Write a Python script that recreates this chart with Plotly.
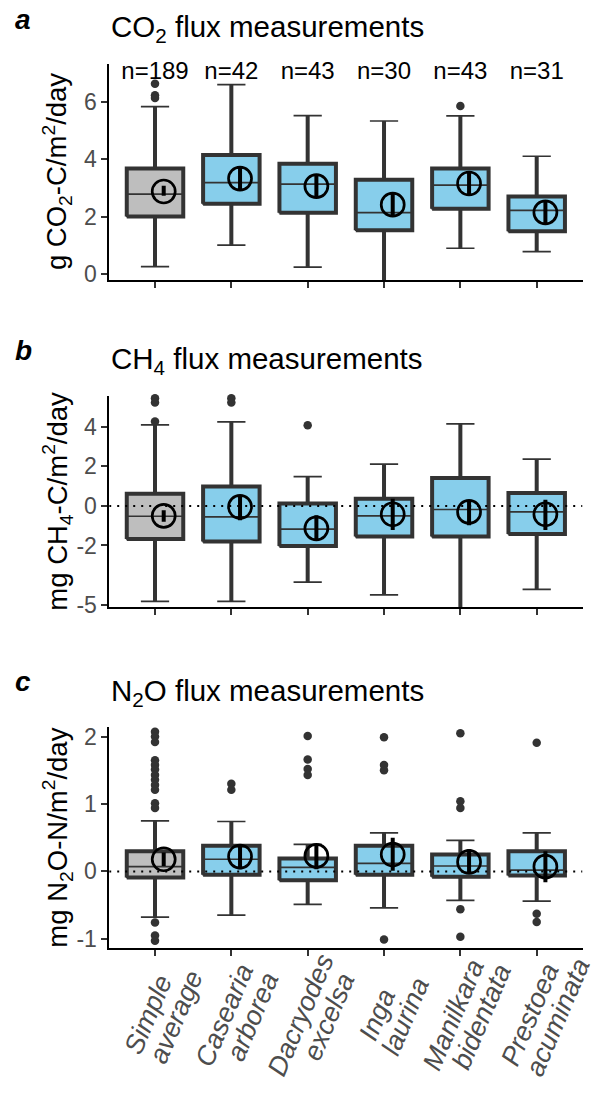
import plotly.graph_objects as go

W, H = 595, 1096
FONT = "Liberation Sans, Arial, sans-serif"

categories = ["Simple average", "Casearia arborea", "Dacryodes excelsa",
              "Inga laurina", "Manilkara bidentata", "Prestoea acuminata"]
n_labels = ["n=189", "n=42", "n=43", "n=30", "n=43", "n=31"]

# ---- CO2 (panel a) ----
co2_q1 = [2.01, 2.45, 2.14, 1.53, 2.28, 1.49]
co2_med = [2.79, 3.19, 3.14, 2.14, 3.10, 2.22]
co2_q3 = [3.68, 4.15, 3.85, 3.29, 3.68, 2.71]
co2_lo = [0.26, 1.01, 0.24, -0.50, 0.90, 0.78]
co2_hi = [5.84, 6.61, 5.53, 5.34, 5.52, 4.11]
co2_mean = [2.88, 3.33, 3.07, 2.42, 3.16, 2.15]
co2_ci_lo = [2.73, 2.97, 2.68, 2.01, 2.76, 1.73]
co2_ci_hi = [3.08, 3.71, 3.46, 2.81, 3.54, 2.53]
co2_out = [[6.64, 6.24, 6.14], [], [], [], [5.86], []]

# ---- CH4 (panel b) ----
ch4_q1 = [-1.67, -1.80, -2.02, -1.55, -1.55, -1.42]
ch4_med = [-0.52, -0.55, -1.17, -0.50, -0.18, -0.30]
ch4_q3 = [0.62, 0.98, 0.12, 0.37, 1.42, 0.65]
ch4_lo = [-4.83, -4.83, -3.85, -4.50, -5.80, -4.22]
ch4_hi = [4.10, 4.25, 1.48, 2.12, 4.15, 2.37]
ch4_mean = [-0.50, -0.05, -1.13, -0.42, -0.30, -0.42]
ch4_ci_lo = [-0.80, -0.72, -1.75, -1.22, -0.97, -1.22]
ch4_ci_hi = [-0.22, 0.53, -0.47, 0.37, 0.28, 0.32]
ch4_out = [[5.45, 5.23, 4.28, -5.38], [5.45, 5.23], [4.08, -5.38], [], [], []]

# ---- N2O (panel c) ----
n2o_q1 = [-0.09, -0.05, -0.13, -0.05, -0.08, -0.06]
n2o_med = [0.07, 0.18, 0.06, 0.12, 0.08, 0.02]
n2o_q3 = [0.30, 0.38, 0.19, 0.38, 0.25, 0.30]
n2o_lo = [-0.68, -0.65, -0.49, -0.54, -0.43, -0.44]
n2o_hi = [0.75, 0.74, 0.40, 0.57, 0.46, 0.57]
n2o_mean = [0.18, 0.22, 0.23, 0.25, 0.14, 0.07]
n2o_ci_lo = [0.08, 0.03, 0.03, 0.01, -0.04, -0.16]
n2o_ci_hi = [0.28, 0.40, 0.40, 0.50, 0.33, 0.30]
n2o_out = [[2.07, 2.00, 1.92, 1.65, 1.58, 1.51, 1.43, 1.36, 1.28, 1.21, 1.01, 0.94,
            -0.76, -0.95, -1.03],
           [1.30, 1.21], [2.01, 1.66, 1.52, 1.43], [1.99, 1.58, 1.50, -1.01],
           [2.05, 1.04, 0.94, -0.56, -0.97], [1.91, -0.63, -0.75]]

panels = [
    dict(q1=co2_q1, med=co2_med, q3=co2_q3, lo=co2_lo, hi=co2_hi, mean=co2_mean,
         cil=co2_ci_lo, cih=co2_ci_hi, out=co2_out, yr=[-0.214, 7.33],
         tickvals=[0, 2, 4, 6], top=61.7, bottom=280.5, letter="a",
         title="CO<sub>2</sub> flux measurements", title_y=26, letter_y=17,
         ytitle="g CO<sub>2</sub>-C/m<sup>2</sup>/day", zero=False),
    dict(q1=ch4_q1, med=ch4_med, q3=ch4_q3, lo=ch4_lo, hi=ch4_hi, mean=ch4_mean,
         cil=ch4_ci_lo, cih=ch4_ci_hi, out=ch4_out, yr=[-5.135, 5.565],
         tickvals=[-5, -2, 0, 2, 4], top=397.7, bottom=611.7, letter="b",
         title="CH<sub>4</sub> flux measurements", title_y=362, letter_y=352,
         ytitle="mg CH<sub>4</sub>-C/m<sup>2</sup>/day", zero=True),
    dict(q1=n2o_q1, med=n2o_med, q3=n2o_q3, lo=n2o_lo, hi=n2o_hi, mean=n2o_mean,
         cil=n2o_ci_lo, cih=n2o_ci_hi, out=n2o_out, yr=[-1.142, 2.142],
         tickvals=[-1, 0, 1, 2], top=732.7, bottom=956.7, letter="c",
         title="N<sub>2</sub>O flux measurements", title_y=698, letter_y=687,
         ytitle="mg N<sub>2</sub>O-N/m<sup>2</sup>/day", zero=True),
]

X_LEFT, X_RIGHT = 109.2, 582.5
pos = [1, 2, 3, 4, 5, 6]
NUDGE = 0.114
BOXW = 0.74
EDGE = "#333333"

fig = go.Figure()
layout = dict(width=W, height=H, autosize=False, margin=dict(l=0, r=0, t=0, b=0),
              paper_bgcolor="white", plot_bgcolor="white", showlegend=False,
              boxmode="overlay", font=dict(family=FONT, color="black"))
annotations = []
shapes = []

for i, p in enumerate(panels):
    k = "" if i == 0 else str(i + 1)
    xa, ya = "x" + k, "y" + k
    # boxes (fill + thin median)
    for idxs, fill in (([0], "#BEBEBE"), ([1, 2, 3, 4, 5], "#87CEEB")):
        fig.add_trace(go.Box(
            x=[pos[j] for j in idxs], q1=[p["q1"][j] for j in idxs],
            median=[p["med"][j] for j in idxs], q3=[p["q3"][j] for j in idxs],
            lowerfence=[p["lo"][j] for j in idxs], upperfence=[p["hi"][j] for j in idxs],
            fillcolor=fill, line=dict(color=EDGE, width=1.7), width=BOXW,
            boxpoints=False, hoverinfo="skip", xaxis=xa, yaxis=ya))
    # thick box outlines and whiskers, derived from the same statistics
    lx, ly = [], []
    for j in range(6):
        x0, x1 = pos[j] - BOXW / 2, pos[j] + BOXW / 2
        lx += [x0, x1, x1, x0, x0, None, pos[j], pos[j], None, pos[j], pos[j], None]
        ly += [p["q1"][j], p["q1"][j], p["q3"][j], p["q3"][j], p["q1"][j], None,
               p["q3"][j], p["hi"][j], None, p["q1"][j], p["lo"][j], None]
    fig.add_trace(go.Scatter(x=lx, y=ly, mode="lines",
                             line=dict(color=EDGE, width=4), xaxis=xa, yaxis=ya,
                             hoverinfo="skip"))
    # outliers
    ox, oy = [], []
    for j, vals in enumerate(p["out"]):
        ox += [pos[j]] * len(vals)
        oy += vals
    fig.add_trace(go.Scatter(x=ox, y=oy, mode="markers", cliponaxis=False,
                             marker=dict(color=EDGE, size=8.5),
                             xaxis=xa, yaxis=ya, hoverinfo="skip"))
    # means with error bars
    fig.add_trace(go.Scatter(
        x=[v + NUDGE for v in pos], y=p["mean"], mode="markers",
        marker=dict(symbol="circle-open", size=23, color="black", line=dict(width=2.7)),
        error_y=dict(type="data", symmetric=False,
                     array=[h - m for h, m in zip(p["cih"], p["mean"])],
                     arrayminus=[m - l for m, l in zip(p["mean"], p["cil"])],
                     thickness=4, width=0, color="black"),
        xaxis=xa, yaxis=ya, hoverinfo="skip"))
    if i == 0:
        fig.add_trace(go.Scatter(x=pos, y=[7.0] * 6, mode="text", text=n_labels,
                                 textfont=dict(size=24, color="black", family=FONT),
                                 textposition="middle center", cliponaxis=False,
                                 xaxis=xa, yaxis=ya, hoverinfo="skip"))
    if p["zero"]:
        shapes.append(dict(type="line", xref=xa, yref=ya, x0=0.4, x1=6.6, y0=0, y1=0,
                           line=dict(color="black", width=2, dash="2px,6px"),
                           layer="above"))

    ydom = [1 - p["bottom"] / H, 1 - p["top"] / H]
    axis_common = dict(showline=True, linecolor="black", linewidth=1.5, ticks="outside",
                       ticklen=6, tickwidth=1.5, tickcolor=EDGE, showgrid=False,
                       zeroline=False, mirror=False)
    layout["xaxis" + k] = dict(axis_common, domain=[X_LEFT / W, X_RIGHT / W],
                               range=[0.4, 6.6], tickvals=pos, anchor=ya,
                               showticklabels=False)
    layout["yaxis" + k] = dict(axis_common, domain=ydom, range=p["yr"],
                               tickvals=p["tickvals"],
                               ticktext=[str(v) for v in p["tickvals"]], anchor=xa,
                               tickfont=dict(size=23, color="#4D4D4D", family=FONT))
    # panel letter, title, y title
    annotations.append(dict(text="<b><i>%s</i></b>" % p["letter"], xref="paper",
                            yref="paper", x=23 / W, y=1 - p["letter_y"] / H,
                            xanchor="center", yanchor="middle", showarrow=False,
                            font=dict(size=28, family=FONT, color="black")))
    annotations.append(dict(text=p["title"], xref="paper", yref="paper",
                            x=X_LEFT / W, y=1 - p["title_y"] / H, xanchor="left",
                            yanchor="middle", showarrow=False,
                            font=dict(size=29.5, family=FONT, color="black")))
    annotations.append(dict(text=p["ytitle"], xref="paper", yref="paper",
                            x=57 / W, y=1 - (p["top"] + p["bottom"]) / 2 / H,
                            xanchor="center", yanchor="middle", textangle=-90,
                            showarrow=False,
                            font=dict(size=27.5, family=FONT, color="black")))

# rotated two-line category labels under the bottom panel (one annotation per line)
line_offsets = [(-7, 1024), (21, 1026)]  # (px from tick, px from top)
for j, cat in enumerate(categories):
    for word, (dx, ypx) in zip(cat.split(" "), line_offsets):
        annotations.append(dict(text="<i>%s</i>" % word, xref="x3", yref="paper",
                                x=pos[j], xshift=dx, y=1 - ypx / H,
                                xanchor="center", yanchor="middle", textangle=-67,
                                showarrow=False, borderpad=0,
                                font=dict(size=27, family=FONT, color="#4D4D4D")))

layout["annotations"] = annotations
layout["shapes"] = shapes
fig.update_layout(**layout)
fig.write_html("out.html")
